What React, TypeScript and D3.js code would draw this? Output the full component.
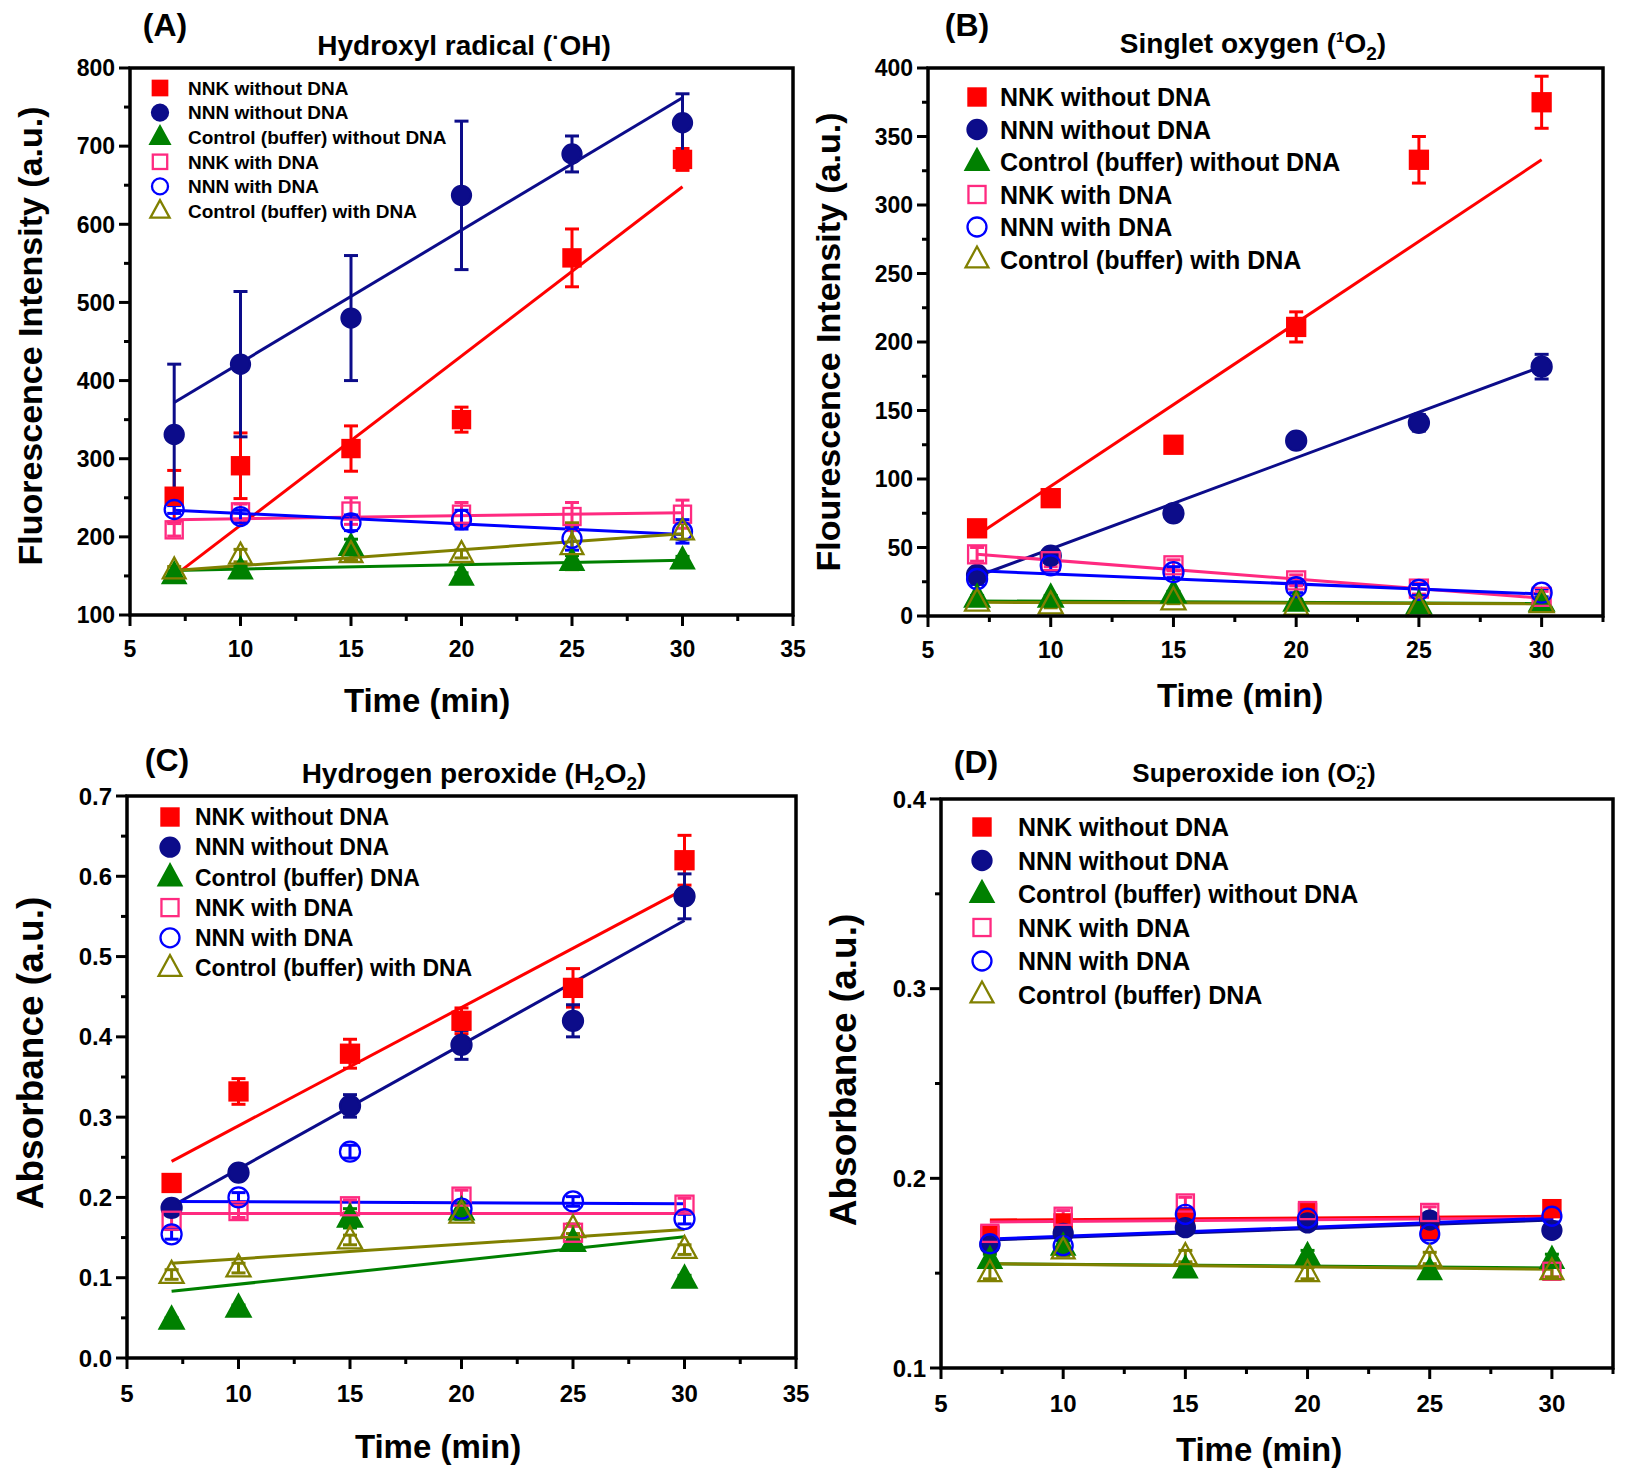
import React from "react";
import * as d3 from "d3";

// sampling times (min) shared by all four panels
const times = [7, 10, 15, 20, 25, 30];
// fitted lines are drawn between these two times
const fitTimes = [7, 30];

const legendA = ["NNK without DNA", "NNN without DNA", "Control (buffer) without DNA", "NNK with DNA", "NNN with DNA", "Control (buffer) with DNA"];
const legendB = ["NNK without DNA", "NNN without DNA", "Control (buffer) without DNA", "NNK with DNA", "NNN with DNA", "Control (buffer) with DNA"];
const legendC = ["NNK without DNA", "NNN without DNA", "Control (buffer) DNA", "NNK with DNA", "NNN with DNA", "Control (buffer) with DNA"];
const legendD = ["NNK without DNA", "NNN without DNA", "Control (buffer) without DNA", "NNK with DNA", "NNN with DNA", "Control (buffer) DNA"];

// (A) hydroxyl radical, fluorescence
const ohMeans = [
  [252, 291, 313, 350, 557, 683],
  [331, 421, 480, 637, 690, 730],
  [151, 157, 187, 149, 168, 170],
  [209, 232, 233, 229, 226, 229],
  [235, 226, 218, 222, 198, 207],
  [157, 176, 178, 178, 188, 207],
];
const ohErrors = [
  [33, 42, 29, 16, 37, 14],
  [90, 93, 80, 95, 23, 37],
  [5, 5, 10, 5, 8, 5],
  [8, 10, 17, 15, 18, 18],
  [5, 8, 10, 12, 15, 15],
  [5, 8, 8, 5, 30, 10],
];
const ohFits = [[150, 648], [372, 762], [157, 170], [222, 231], [234, 203], [157, 204]];

// (B) singlet oxygen, fluorescence
const soMeans = [
  [64, 86, 125, 211, 333, 375],
  [30, 44, 75, 128, 141, 182],
  [13, 13, 16, 10, 8, 10],
  [45, 40, 37, 26, 20, 14],
  [27, 37, 32, 21, 19, 17],
  [10, 8, 11, 7, 6, 9],
];
const soErrors = [
  [5, 5, 4, 11, 17, 19],
  [3, 4, 5, 5, 6, 9],
  [2, 2, 2, 2, 2, 2],
  [5, 4, 4, 4, 4, 4],
  [4, 4, 4, 4, 4, 3],
  [2, 2, 2, 2, 2, 2],
];
const soFits = [[59, 333], [29, 182], [11, 9], [45, 13], [33, 16], [10, 9]];

// (C) hydrogen peroxide, absorbance
const hpMeans = [
  [0.218, 0.332, 0.379, 0.42, 0.461, 0.62],
  [0.187, 0.231, 0.314, 0.39, 0.42, 0.575],
  [0.047, 0.062, 0.174, 0.183, 0.144, 0.098],
  [0.171, 0.183, 0.189, 0.201, 0.156, 0.191],
  [0.154, 0.2, 0.257, 0.186, 0.195, 0.173],
  [0.104, 0.112, 0.147, 0.179, 0.161, 0.135],
];
const hpErrors = [
  [0.01, 0.016, 0.018, 0.016, 0.024, 0.031],
  [0.005, 0.008, 0.014, 0.018, 0.02, 0.028],
  [0.003, 0.004, 0.012, 0.01, 0.005, 0.005],
  [0.008, 0.008, 0.008, 0.008, 0.008, 0.008],
  [0.006, 0.006, 0.008, 0.006, 0.006, 0.006],
  [0.006, 0.006, 0.006, 0.006, 0.006, 0.006],
];
const hpFits = [[0.245, 0.584], [0.189, 0.545], [0.083, 0.151], [0.18, 0.18], [0.195, 0.192], [0.118, 0.16]];

// (D) superoxide ion, absorbance
const suMeans = [
  [0.17, 0.1765, 0.179, 0.182, 0.173, 0.184],
  [0.165, 0.171, 0.174, 0.1765, 0.178, 0.1726],
  [0.157, 0.164, 0.152, 0.159, 0.151, 0.157],
  [0.171, 0.18, 0.187, 0.183, 0.182, 0.151],
  [0.1655, 0.1645, 0.181, 0.179, 0.1706, 0.18],
  [0.15, 0.162, 0.159, 0.15, 0.158, 0.151],
];
const suErrors = [
  [0.003, 0.003, 0.003, 0.003, 0.003, 0.003],
  [0.003, 0.003, 0.003, 0.003, 0.003, 0.003],
  [0.003, 0.003, 0.003, 0.003, 0.003, 0.003],
  [0.003, 0.003, 0.003, 0.003, 0.003, 0.003],
  [0.003, 0.003, 0.003, 0.003, 0.003, 0.003],
  [0.003, 0.003, 0.003, 0.003, 0.003, 0.003],
];
const suFits = [[0.178, 0.18], [0.1675, 0.178], [0.155, 0.1527], [0.177, 0.179], [0.168, 0.179], [0.155, 0.152]];

const seriesColors = ["#ff0000", "#0c0c8a", "#008000", "#ff2a80", "#0000ff", "#808000"];
const seriesShapes = ["square", "circle", "triangle", "square", "circle", "triangle"];
const seriesFilled = [true, true, true, false, false, false];

const FONT = "'Liberation Sans', Arial, Helvetica, sans-serif";

function Marker({ i, cx, cy, size }) {
  const color = seriesColors[i];
  const fill = seriesFilled[i] ? color : "none";
  const sw = 2.3;
  if (seriesShapes[i] === "square") {
    const s = size * 0.9;
    return <rect x={cx - s / 2} y={cy - s / 2} width={s} height={s} fill={fill} stroke={color} strokeWidth={sw} />;
  }
  if (seriesShapes[i] === "circle") {
    return <circle cx={cx} cy={cy} r={size / 2} fill={fill} stroke={color} strokeWidth={sw} />;
  }
  const w = size * 1.2, h = size * 1.1;
  const pts = `${cx},${cy - h * 0.62} ${cx - w / 2},${cy + h * 0.38} ${cx + w / 2},${cy + h * 0.38}`;
  return <polygon points={pts} fill={fill} stroke={color} strokeWidth={sw} strokeLinejoin="miter" />;
}

function Panel({ cfg, means, errors, fits, labels }) {
  const f = cfg.frame;
  const x = d3.scaleLinear().domain(cfg.xDomain).range([f.left, f.right]);
  const y = d3.scaleLinear().domain(cfg.yDomain).range([f.bottom, f.top]);
  const line = d3.line<number>().x((d, k) => x(fitTimes[k])).y((d) => y(d));
  const xMajor = d3.range(5, cfg.xDomain[1] + 0.01, 5);
  const xMinor = d3.range(7.5, cfg.xDomain[1] + 0.01, 5);
  const yMajor = d3.range(cfg.yDomain[0], cfg.yDomain[1] + cfg.yStep / 10, cfg.yStep);
  const yMinor = d3.range(cfg.yDomain[0] + cfg.yStep / 2, cfg.yDomain[1], cfg.yStep);
  const cap = cfg.cap;

  return (
    <g fontFamily={FONT} fontWeight="bold">
      {/* fitted lines */}
      {fits.map((fv, i) => (
        <path key={"fit" + i} d={line(fv)} fill="none" stroke={seriesColors[i]} strokeWidth={3} />
      ))}
      {/* error bars */}
      {means.map((row, i) =>
        row.map((m, k) => {
          const e = errors[i][k];
          const px = x(times[k]);
          return (
            <g key={"e" + i + "-" + k} stroke={seriesColors[i]} strokeWidth={3}>
              <line x1={px} x2={px} y1={y(m - e)} y2={y(m + e)} />
              <line x1={px - cap} x2={px + cap} y1={y(m + e)} y2={y(m + e)} />
              <line x1={px - cap} x2={px + cap} y1={y(m - e)} y2={y(m - e)} />
            </g>
          );
        })
      )}
      {/* markers */}
      {means.map((row, i) =>
        row.map((m, k) => <Marker key={"m" + i + "-" + k} i={i} cx={x(times[k])} cy={y(m)} size={cfg.marker} />)
      )}
      {/* frame */}
      <rect x={f.left} y={f.top} width={f.right - f.left} height={f.bottom - f.top} fill="none" stroke="#000" strokeWidth={3.5} />
      {/* ticks */}
      {xMajor.map((t) => (
        <g key={"xt" + t}>
          <line x1={x(t)} x2={x(t)} y1={f.bottom} y2={f.bottom + 11} stroke="#000" strokeWidth={3} />
          <text x={x(t)} y={f.bottom + cfg.xLabelDy} textAnchor="middle" fontSize={cfg.tickFont}>{t}</text>
        </g>
      ))}
      {xMinor.map((t) => (
        <line key={"xm" + t} x1={x(t)} x2={x(t)} y1={f.bottom} y2={f.bottom + 6} stroke="#000" strokeWidth={3} />
      ))}
      {yMajor.map((t) => (
        <g key={"yt" + t}>
          <line x1={f.left - 11} x2={f.left} y1={y(t)} y2={y(t)} stroke="#000" strokeWidth={3} />
          <text x={f.left - 15} y={y(t)} dy="0.36em" textAnchor="end" fontSize={cfg.tickFont}>{cfg.yFormat(t)}</text>
        </g>
      ))}
      {yMinor.map((t) => (
        <line key={"ym" + t} x1={f.left - 6} x2={f.left} y1={y(t)} y2={y(t)} stroke="#000" strokeWidth={3} />
      ))}
      {/* legend */}
      {labels.map((lab, i) => {
        const ly = cfg.legend.y + i * cfg.legend.step;
        return (
          <g key={"lg" + i}>
            <Marker i={i} cx={cfg.legend.x} cy={ly} size={cfg.legend.marker} />
            <text x={cfg.legend.textX} y={ly} dy="0.36em" fontSize={cfg.legend.font}>{lab}</text>
          </g>
        );
      })}
      {/* texts */}
      <text x={cfg.letter[0]} y={cfg.letter[1]} dy="0.36em" textAnchor="middle" fontSize={32}>{cfg.letterText}</text>
      <text x={cfg.titlePos[0]} y={cfg.titlePos[1]} dy="0.36em" textAnchor="middle" fontSize={cfg.titleFont}>{cfg.title}</text>
      <text x={cfg.xTitle[0]} y={cfg.xTitle[1]} dy="0.36em" textAnchor="middle" fontSize={33}>Time (min)</text>
      <text transform={`translate(${cfg.yTitle[0]},${cfg.yTitle[1]}) rotate(-90)`} dy="0.36em" textAnchor="middle" fontSize={cfg.yTitleFont}>
        {cfg.yTitleText}
      </text>
    </g>
  );
}

const titleA = (
  <>
    Hydroxyl radical (<tspan fontSize={22} dy={-10}>·</tspan><tspan dy={10}>OH)</tspan>
  </>
);
const titleB = (
  <>
    Singlet oxygen (<tspan fontSize={15} dy={-11}>1</tspan><tspan dy={11}>O</tspan><tspan fontSize={19} dy={7}>2</tspan><tspan dy={-7}>)</tspan>
  </>
);
const titleC = (
  <>
    Hydrogen peroxide (H<tspan fontSize={19} dy={7}>2</tspan><tspan dy={-7}>O</tspan><tspan fontSize={19} dy={7}>2</tspan><tspan dy={-7}>)</tspan>
  </>
);
const titleD = (
  <>
    Superoxide ion (O<tspan fontSize={17} dy={7}>2</tspan><tspan fontSize={17} dx={-10} dy={-17}>·-</tspan><tspan dy={10}>)</tspan>
  </>
);

const cfgA = {
  frame: { left: 130, right: 793, top: 68, bottom: 615 },
  xDomain: [5, 35], yDomain: [100, 800], yStep: 100, yFormat: (t) => String(t),
  tickFont: 23, xLabelDy: 42, cap: 7, marker: 19,
  legend: { x: 160, textX: 188, y: 88, step: 24.6, font: 19, marker: 16 },
  letter: [165, 24], letterText: "(A)", titlePos: [464, 45], title: titleA, titleFont: 28,
  xTitle: [427, 700], yTitle: [30, 336], yTitleText: "Fluorescence Intensity (a.u.)", yTitleFont: 34,
};
const cfgB = {
  frame: { left: 928, right: 1603, top: 68, bottom: 616 },
  xDomain: [5, 32.5], yDomain: [0, 400], yStep: 50, yFormat: (t) => String(t),
  tickFont: 23, xLabelDy: 42, cap: 7, marker: 20,
  legend: { x: 977, textX: 1000, y: 97, step: 32.5, font: 25, marker: 19 },
  letter: [967, 24], letterText: "(B)", titlePos: [1253, 43], title: titleB, titleFont: 28,
  xTitle: [1240, 695], yTitle: [828, 342], yTitleText: "Flourescence Intensity (a.u.)", yTitleFont: 34,
};
const cfgC = {
  frame: { left: 127, right: 796, top: 796, bottom: 1358 },
  xDomain: [5, 35], yDomain: [0, 0.7], yStep: 0.1, yFormat: (t) => t.toFixed(1),
  tickFont: 24, xLabelDy: 44, cap: 7, marker: 20,
  legend: { x: 170, textX: 195, y: 817, step: 30.2, font: 23, marker: 19 },
  letter: [167, 759], letterText: "(C)", titlePos: [474, 773], title: titleC, titleFont: 28,
  xTitle: [438, 1446], yTitle: [30, 1053], yTitleText: "Absorbance (a.u.)", yTitleFont: 37,
};
const cfgD = {
  frame: { left: 941, right: 1613, top: 799, bottom: 1368 },
  xDomain: [5, 32.5], yDomain: [0.1, 0.4], yStep: 0.1, yFormat: (t) => t.toFixed(1),
  tickFont: 24, xLabelDy: 44, cap: 7, marker: 19,
  legend: { x: 982, textX: 1018, y: 827, step: 33.5, font: 25, marker: 19 },
  letter: [976, 761], letterText: "(D)", titlePos: [1254, 773], title: titleD, titleFont: 26,
  xTitle: [1259, 1449], yTitle: [843, 1070], yTitleText: "Absorbance (a.u.)", yTitleFont: 37,
};

export default function App() {
  return (
    <div style={{ position: "absolute", left: 0, top: 0 }}>
      <svg width={1634} height={1479} style={{ display: "block", background: "#fff" }}>
        <Panel cfg={cfgA} means={ohMeans} errors={ohErrors} fits={ohFits} labels={legendA} />
        <Panel cfg={cfgB} means={soMeans} errors={soErrors} fits={soFits} labels={legendB} />
        <Panel cfg={cfgC} means={hpMeans} errors={hpErrors} fits={hpFits} labels={legendC} />
        <Panel cfg={cfgD} means={suMeans} errors={suErrors} fits={suFits} labels={legendD} />
      </svg>
    </div>
  );
}
